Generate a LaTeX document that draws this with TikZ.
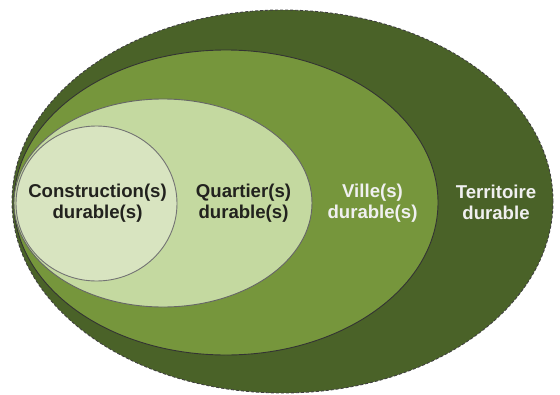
\documentclass[tikz,border=0pt]{standalone}
\usepackage{fontspec}
\setmainfont{Liberation Sans}
\usetikzlibrary{shapes.geometric}

\definecolor{terrgreen}{RGB}{74,98,40}
\definecolor{villegreen}{RGB}{118,150,60}
\definecolor{quartgreen}{RGB}{196,217,160}
\definecolor{constgreen}{RGB}{216,228,192}
\definecolor{txtdark}{RGB}{34,34,30}

\begin{document}
\begin{tikzpicture}[
    x=1pt, y=-1pt,
    zone/.style={ellipse, inner sep=0pt, line width=0.9pt},
    lbl/.style={font=\bfseries\fontsize{18.6}{21}\selectfont, align=center, inner sep=0pt},
  ]
    \useasboundingbox (0,0) rectangle (560,394);

    % === nested zones, all touching on the left ===
    \node[zone, fill=terrgreen, draw=black!75, densely dashed,
          minimum width=541pt, minimum height=383pt] (terr) at (282.5,201.5) {};
    \node[zone, fill=villegreen, draw=black!80,
          minimum width=424pt, minimum height=305pt] (ville) at (226,202.5) {};
    \node[zone, fill=quartgreen, draw=black!60,
          minimum width=298pt, minimum height=208pt] (quart) at (163,203) {};
    \node[zone, fill=constgreen, draw=black!55,
          minimum width=161pt, minimum height=155pt] (const) at (96.5,203.5) {};

    % === labels ===
    \node[lbl, txtdark] (constlbl) at (97.5,203) {Construction(s)\\durable(s)};
    \node[lbl, txtdark] (quartlbl) at (243.5,203) {Quartier(s)\\durable(s)};
    \node[lbl, white!94!black] (villelbl) at (372.5,203) {Ville(s)\\durable(s)};
    \node[lbl, white!94!black] (terrlbl) at (496,202) {Territoire\\durable};
\end{tikzpicture}
\end{document}
